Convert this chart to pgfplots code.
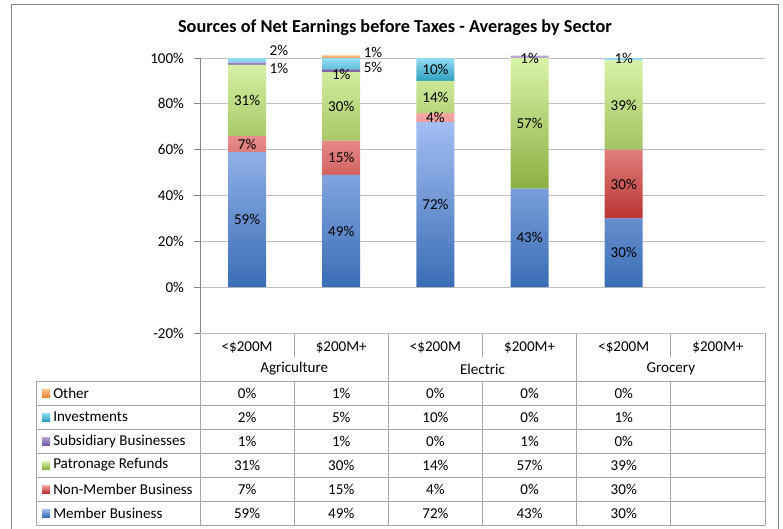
\documentclass[border=0pt]{standalone}
\usepackage{fontspec}
\setmainfont{Carlito}
\usepackage{pgfplots}
\pgfplotsset{compat=1.18}
\usepackage{pgfplotstable}

% Excel 2007 palette, light top / dark bottom of the gradient
\definecolor{memTop}{HTML}{A3BEF3}
\definecolor{memBot}{HTML}{3A6DB5}
\definecolor{nonTop}{HTML}{F6A6A4}
\definecolor{nonBot}{HTML}{B83431}
\definecolor{patTop}{HTML}{D9F3A8}
\definecolor{patBot}{HTML}{8BAF42}
\definecolor{subTop}{HTML}{B9A7D8}
\definecolor{subBot}{HTML}{7358A0}
\definecolor{invTop}{HTML}{93DDF3}
\definecolor{invBot}{HTML}{2E9FC0}
\definecolor{othTop}{HTML}{FCC08F}
\definecolor{othBot}{HTML}{EE8637}
\definecolor{gridgray}{HTML}{C0C0C0}
\definecolor{axisgray}{HTML}{868686}
\definecolor{tablegray}{HTML}{A6A6A6}

% one row per bar (0..4); Grocery $200M+ has no data
\pgfplotstableread{
x member nonmember patronage subsidiary investments other
0 59 7  31 1 2  0
1 49 15 30 1 5  1
2 72 4  14 0 10 0
3 43 0  57 1 0  0
4 30 30 39 0 1  0
}\sectordata

\newcommand\lbl{\fontsize{11.3}{13}\selectfont}

\begin{document}
\begin{tikzpicture}
\useasboundingbox (0,0) rectangle (587.25pt,-396.75pt);

\begin{scope}[x=0.75pt,y=-0.75pt]
  % chart frame
  \draw[axisgray, line width=0.75pt] (11,540) -- (11,4) -- (778,4) -- (778,540);
  % title
  \node[font=\bfseries\fontsize{13.7}{16}\selectfont] at (395,28)
    {Sources of Net Earnings before Taxes - Averages by Sector};

  % ---- data table ----
  \draw[tablegray, line width=0.75pt] (194,333) -- (765,333);
  \foreach \yy in {381,405,429,453,477,501,525}
    \draw[tablegray, line width=0.75pt] (36,\yy) -- (765,\yy);
  \draw[tablegray, line width=0.75pt] (36,381) -- (36,525);
  \foreach \xx in {200,388.33,576.67,765}
    \draw[tablegray, line width=0.75pt] (\xx,333) -- (\xx,525);
  \foreach \xx in {294.17,482.5,670.83} {
    \draw[tablegray, line width=0.75pt] (\xx,333) -- (\xx,357);
    \draw[tablegray, line width=0.75pt] (\xx,381) -- (\xx,525);
  }
  \foreach \k/\t in {0/{<\$200M},1/{\$200M+},2/{<\$200M},3/{\$200M+},4/{<\$200M},5/{\$200M+}}
    \node[font=\lbl] at ({247.08+94.17*\k},347) {\t};
  \foreach \k/\t in {0/Agriculture,1/Electric,2/Grocery}
    \node[font=\lbl] at ({294.17+188.33*\k},369) {\t};

  \foreach \col/\r/\name/\ct/\cb in {%
      other/0/Other/othTop/othBot,
      investments/1/Investments/invTop/invBot,
      subsidiary/2/Subsidiary Businesses/subTop/subBot,
      patronage/3/Patronage Refunds/patTop/patBot,
      nonmember/4/Non-Member Business/nonTop/nonBot,
      member/5/Member Business/memTop/memBot} {
    \shade[top color=\ct, bottom color=\cb] (42,{389+24*\r}) rectangle (50,{397+24*\r});
    \node[font=\lbl, anchor=west, inner sep=0pt] at (53,{393+24*\r}) {\name};
    \foreach \k in {0,...,4} {
      \pgfplotstablegetelem{\k}{\col}\of\sectordata
      \node[font=\lbl] at ({247.08+94.17*\k},{393+24*\r}) {\pgfplotsretval\%};
    }
  }
\end{scope}

\begin{axis}[
    at={(150pt,-249.75pt)}, anchor=south west,
    scale only axis, width=423.75pt, height=206.25pt,
    xmin=-0.5, xmax=5.5, ymin=-20, ymax=100,
    axis x line=none,
    axis y line*=left,
    y axis line style={draw=axisgray, line width=0.75pt},
    ytick={-20,0,20,40,60,80,100},
    tick align=outside, major tick length=4.5pt,
    ytick style={draw=axisgray, line width=0.75pt},
    yticklabel={\pgfmathprintnumber[assume math mode=true]{\tick}\%},
    yticklabel style={font=\lbl, text=black, xshift=-4pt},
    ymajorgrids, grid style={gridgray, line width=0.75pt},
    clip=false,
    ybar stacked, bar width=28.5pt,
    visualization depends on=rawy \as \segval,
    every node near coord/.append style={anchor=center, font=\lbl, text=black},
    seglabel/.style={nodes near coords={\pgfmathtruncatemacro\showit{\segval>=#1}%
        \ifnum\showit=1 \pgfmathprintnumber[assume math mode=true,fixed,precision=0]{\segval}\%\fi}},
]
\addplot[draw=none, top color=memTop, bottom color=memBot, seglabel=4]
    table[x=x, y=member] {\sectordata};
\addplot[draw=none, top color=nonTop, bottom color=nonBot, seglabel=4]
    table[x=x, y=nonmember] {\sectordata};
\addplot[draw=none, top color=patTop, bottom color=patBot, seglabel=4]
    table[x=x, y=patronage] {\sectordata};
\addplot[draw=none, top color=subTop, bottom color=subBot, seglabel=200]
    table[x=x, y=subsidiary] {\sectordata};
\addplot[draw=none, top color=invTop, bottom color=invBot, seglabel=6]
    table[x=x, y=investments] {\sectordata};
\addplot[draw=none, top color=othTop, bottom color=othBot, seglabel=200]
    table[x=x, y=other] {\sectordata};

% anchors for the labels of the small segments (drawn after the axis, on top)
\coordinate (a1) at (axis cs:0.19,103.4);
\coordinate (a2) at (axis cs:0.19,95.6);
\coordinate (a3) at (axis cs:1.19,102.5);
\coordinate (a4) at (axis cs:1.19,96);
\coordinate (a5) at (axis cs:1,92.7);
\coordinate (a6) at (axis cs:3,99.8);
\coordinate (a7) at (axis cs:4,99.8);
\end{axis}

\node[font=\lbl, anchor=west] at (a1) {2\%};
\node[font=\lbl, anchor=west] at (a2) {1\%};
\node[font=\lbl, anchor=west] at (a3) {1\%};
\node[font=\lbl, anchor=west] at (a4) {5\%};
\node[font=\lbl] at (a5) {1\%};
\node[font=\lbl] at (a6) {1\%};
\node[font=\lbl] at (a7) {1\%};
\end{tikzpicture}
\end{document}
